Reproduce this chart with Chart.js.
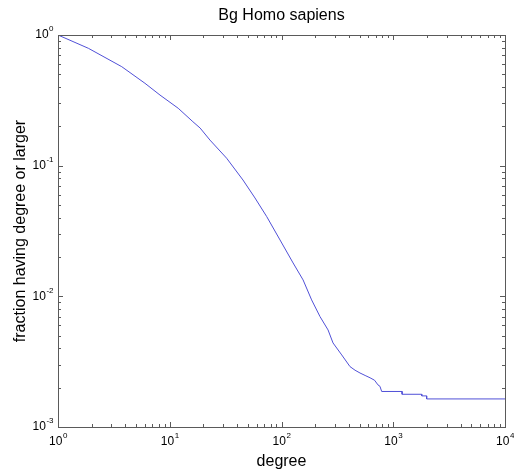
<!DOCTYPE html>
<html>
<head>
<meta charset="utf-8">
<script src="https://cdn.jsdelivr.net/npm/chart.js@4"></script>
<style>
  html, body { margin: 0; padding: 0; background: #fff; }
  #wrap { width: 514px; height: 472px; }
</style>
</head>
<body>
<div id="wrap"><canvas id="ccdf" width="514" height="472"></canvas></div>
<script>
// data (degree vs fraction with degree >= that value)
const degree = [1, 1.87, 3.72, 6.0, 8.18, 11.9, 16.1, 18.7, 22.9, 32.3, 45.2, 57.9, 73.8, 97, 127, 156, 186, 221, 261, 289, 346, 410, 455, 504, 560, 620, 680, 730, 760, 788, 1200, 1200, 1800, 1800, 1990, 1990, 10000];
const fraction = [1, 0.791, 0.572, 0.427, 0.347, 0.275, 0.217, 0.194, 0.157, 0.114, 0.0777, 0.0566, 0.0407, 0.027, 0.018, 0.01335, 0.00939, 0.0070, 0.00553, 0.0044, 0.00356, 0.0029, 0.00272, 0.00259, 0.00248, 0.00238, 0.00228, 0.0021, 0.00205, 0.00187, 0.00187, 0.00178, 0.00178, 0.00173, 0.00173, 0.00164, 0.00164];
const xDecades = [0, 1, 2, 3, 4];
const yDecades = [-3, -2, -1, 0];

const FONT = '"Liberation Sans", Arial, Helvetica, sans-serif';
const AXIS = '#5a5a5a';

// box, inward ticks on all sides, exponent tick labels and titles
const matlabAxes = {
    id: 'matlabAxes',
    afterDraw(chart) {
        const ctx = chart.ctx;
        const a = chart.chartArea;
        const xs = chart.scales.x;
        const ys = chart.scales.y;
        ctx.save();
        ctx.strokeStyle = AXIS;
        ctx.lineWidth = 1;
        ctx.strokeRect(Math.round(a.left) + 0.5, Math.round(a.top) + 0.5,
            Math.round(a.right - a.left), Math.round(a.bottom - a.top));

        ctx.beginPath();
        xDecades.forEach(k => {
            for (let m = 1; m <= 9; m++) {
                const v = m * Math.pow(10, k);
                if (v > Math.pow(10, xDecades[xDecades.length - 1])) break;
                const px = Math.round(xs.getPixelForValue(v)) + 0.5;
                const len = m === 1 ? 5 : 3;
                ctx.moveTo(px, a.bottom); ctx.lineTo(px, a.bottom - len);
                ctx.moveTo(px, a.top); ctx.lineTo(px, a.top + len);
            }
        });
        yDecades.forEach(k => {
            for (let m = 1; m <= 9; m++) {
                const v = m * Math.pow(10, k);
                if (v > Math.pow(10, yDecades[yDecades.length - 1])) break;
                const py = Math.round(ys.getPixelForValue(v)) + 0.5;
                const len = m === 1 ? 5 : 3;
                ctx.moveTo(a.left, py); ctx.lineTo(a.left + len, py);
                ctx.moveTo(a.right, py); ctx.lineTo(a.right - len, py);
            }
        });
        ctx.stroke();

        // tick labels like 10^k
        ctx.fillStyle = '#000';
        ctx.textBaseline = 'middle';
        const base = '12px ' + FONT;
        const sup = '8px ' + FONT;
        function measure(k) {
            ctx.font = base; const w1 = ctx.measureText('10').width;
            ctx.font = sup; const w2 = ctx.measureText(String(k)).width;
            return [w1, w2];
        }
        function put(k, left, y) {
            const [w1] = measure(k);
            ctx.textAlign = 'left';
            ctx.font = base; ctx.fillText('10', left, y);
            ctx.font = sup; ctx.fillText(String(k), left + w1 + 0.5, y - 6);
        }
        xDecades.forEach(k => {
            const px = xs.getPixelForValue(Math.pow(10, k));
            const [w1, w2] = measure(k);
            put(k, px - (w1 + w2) / 2, a.bottom + 15);
        });
        yDecades.forEach(k => {
            const py = ys.getPixelForValue(Math.pow(10, k));
            const [w1, w2] = measure(k);
            put(k, a.left - 5 - w1 - w2, py);
        });

        // title and axis labels
        ctx.textAlign = 'center';
        ctx.font = '16px ' + FONT;
        ctx.fillText('Bg Homo sapiens', (a.left + a.right) / 2, 16);
        ctx.fillText('degree', (a.left + a.right) / 2, 462);
        ctx.translate(21, (a.top + a.bottom) / 2);
        ctx.rotate(-Math.PI / 2);
        ctx.fillText('fraction having degree or larger', 0, 0);
        ctx.restore();
    }
};

new Chart(document.getElementById('ccdf'), {
    type: 'line',
    data: {
        datasets: [{
            data: degree.map((d, i) => ({ x: d, y: fraction[i] })),
            borderColor: 'rgb(80, 80, 215)',
            borderWidth: 1,
            pointRadius: 0,
            tension: 0,
            fill: false
        }]
    },
    options: {
        responsive: false,
        animation: false,
        layout: { padding: { left: 58, right: 9, top: 35, bottom: 45 } },
        plugins: { legend: { display: false }, tooltip: { enabled: false } },
        scales: {
            x: { type: 'logarithmic', min: 1, max: 10000, display: false },
            y: { type: 'logarithmic', min: 0.001, max: 1, display: false }
        }
    },
    plugins: [matlabAxes]
});
</script>
</body>
</html>
